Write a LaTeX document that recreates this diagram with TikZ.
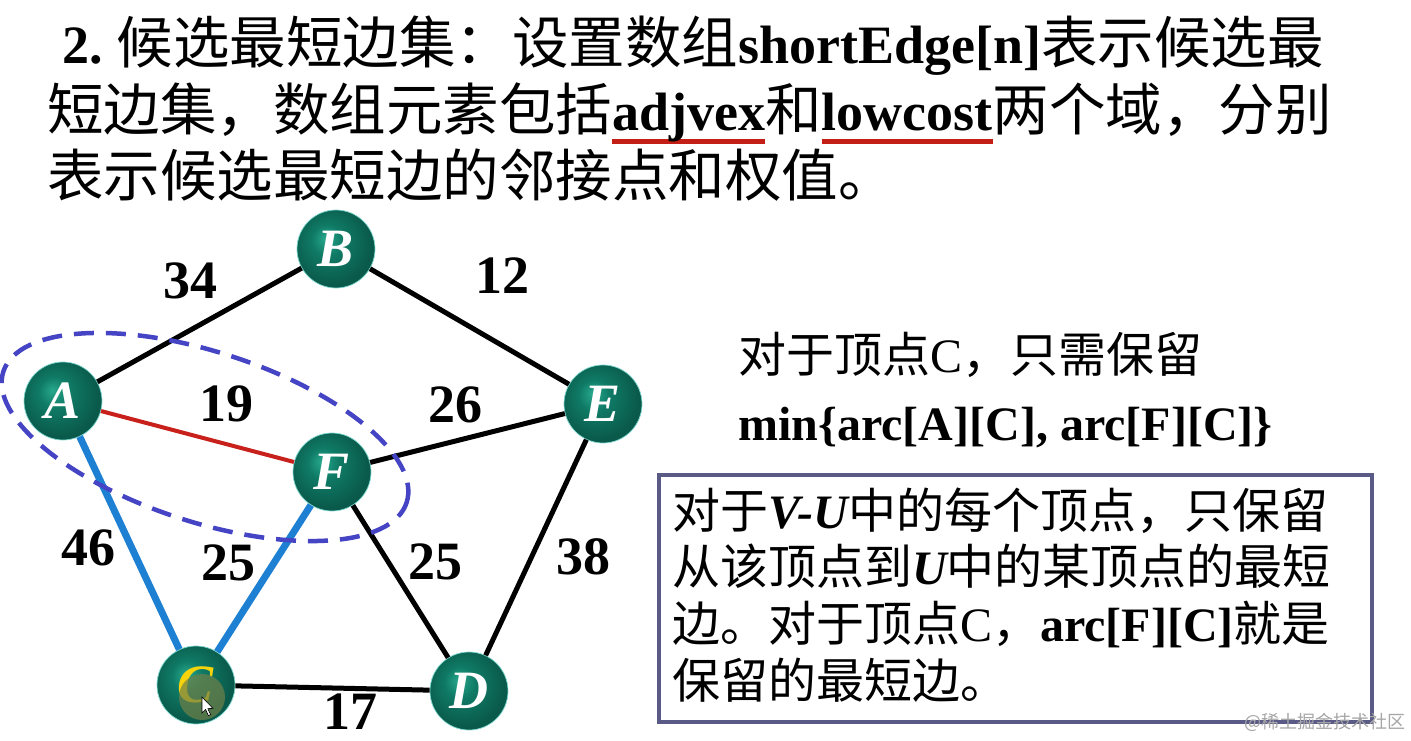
\documentclass[tikz,border=0pt]{standalone}
\usepackage{fontspec}
\setmainfont{Liberation Serif}
\newfontfamily\cjk{Noto Sans CJK SC}
\usetikzlibrary{calc}
\definecolor{ballhi}{HTML}{27A88C}
\definecolor{ballmid}{HTML}{0F7A65}
\definecolor{balldark}{HTML}{0A5A4B}
\definecolor{ballrim}{HTML}{7FD8D0}
\definecolor{ulred}{HTML}{C41F16}
\definecolor{edgered}{HTML}{C8201A}
\definecolor{edgeblue}{HTML}{1E80D2}
\definecolor{ellc}{HTML}{4444C4}
\definecolor{boxc}{HTML}{5A5A86}
\definecolor{cyel}{HTML}{F5D40C}
\definecolor{blob}{HTML}{708048}
\pgfdeclareradialshading{nodeball}{\pgfpoint{-7bp}{7bp}}{color(0bp)=(ballhi); color(10bp)=(ballmid); color(26bp)=(balldark); color(50bp)=(balldark)}
\newcommand\Tc[1]{{\cjk\fontsize{56.5}{60}\selectfont #1}}
\newcommand\Tl[1]{{\fontsize{54}{60}\selectfont\bfseries #1}}
\newcommand\Rc[1]{{\cjk\fontsize{48}{52}\selectfont #1}}
\newcommand\Rl[1]{{\fontsize{48}{52}\selectfont #1}}
\newcommand\Rb[1]{{\fontsize{48}{52}\selectfont\bfseries #1}}
\newcommand\Rbi[1]{{\fontsize{48}{52}\selectfont\bfseries\itshape #1}}
\newcommand\redul[1]{\setbox0\hbox{#1}\rlap{\color{ulred}\rule[-13.5pt]{\wd0}{5pt}}\box0}
\begin{document}
\begin{tikzpicture}[x=1pt,y=-1pt,
  vtx/.style={circle, minimum size=78pt, inner sep=0pt, shading=nodeball, draw=ballrim, line width=0.7pt, text=white, font=\fontsize{54}{54}\selectfont\bfseries\itshape},
  wlab/.style={inner sep=0pt, font=\fontsize{54}{54}\selectfont\bfseries},
  txt/.style={anchor=base west, inner sep=0pt},
  blk/.style={line width=5pt, black},
  redl/.style={line width=4pt, edgered},
  blu/.style={line width=7pt, edgeblue},
  ellip/.style={ellc, line width=4.5pt, dash pattern=on 20pt off 12pt}
]
\useasboundingbox (0,0) rectangle (1411,741);
\fill[white] (0,0) rectangle (1411,741);

% title
\node[txt] (t1) at (62,64) {\Tl{2.}\hspace{14pt}\Tc{候选最短边集：设置数组}\Tl{shortEdge[n]}\Tc{表示候选最}};
\node[txt] (t2) at (47,131) {\Tc{短边集，数组元素包括}\Tl{\redul{adjvex}}\Tc{和}\Tl{\redul{lowcost}}\Tc{两个域，分别}};
\node[txt] (t3) at (47,196) {\Tc{表示候选最短边的邻接点和权值。}};

% vertices
\node[vtx] (A) at (63,401) {A};
\node[vtx] (B) at (336,249) {B};
\node[vtx] (E) at (603,404) {E};
\node[vtx] (F) at (332,472) {F};
\node[vtx, text=cyel] (C) at (196,685) {C};
\node[vtx] (D) at (469,691) {D};

% edges
\draw[blk] (A) -- (B);
\draw[blk] (B) -- (E);
\draw[blk] (F) -- (E);
\draw[blk] (F) -- (D);
\draw[blk] (E) -- (D);
\draw[blk] (C) -- (D);
\draw[redl] (A) -- (F);
\draw[blu] (A) -- (C);
\draw[blu] (F) -- (C);

% weights
\node[wlab] (l34) at (190,281) {34};
\node[wlab] (l12) at (502,276) {12};
\node[wlab] (l19) at (226,404) {19};
\node[wlab] (l26) at (455,405) {26};
\node[wlab] (l46) at (88,548) {46};
\node[wlab] (l25a) at (228,563) {25};
\node[wlab] (l25b) at (435,562) {25};
\node[wlab] (l38) at (583,557) {38};
\node[wlab] (l17) at (350,712) {17};

% dashed ellipse
\draw[ellip, rotate around={-18:(205,437)}] (205,437) ellipse [x radius=212pt, y radius=85pt];

% cursor highlight on C
\fill[blob, opacity=0.7] (202,697) circle [radius=23pt];
\draw[black, line width=0.6pt, fill=white, shift={(202,697)}]
  (0,0) -- (0,16) -- (3.6,12.4) -- (6.4,18.6) -- (8.6,17.6) -- (5.8,11.6) -- (11,11.4) -- cycle;

% right-hand text
\node[txt] (r1) at (738,372) {\Rc{对于顶点}\Rl{C}\Rc{，只需保留}};
\node[txt] (r2) at (738,440) {\Rb{min\{arc[A][C], arc[F][C]\}}};

% box
\node[draw=boxc, line width=4pt, minimum width=713pt, minimum height=247pt, anchor=north west, inner sep=0pt] (box) at (657,473) {};
\node[txt] (b1) at (672,528) {\Rc{对于}\Rbi{V-U}\Rc{中的每个顶点，只保留}};
\node[txt] (b2) at (672,584) {\Rc{从该顶点到}\Rbi{U}\Rc{中的某顶点的最短}};
\node[txt] (b3) at (672,641) {\Rc{边。对于顶点}\Rl{C}\Rc{，}\Rb{arc[F][C]}\Rc{就是}};
\node[txt] (b4) at (672,698) {\Rc{保留的最短边。}};

% watermark
\node[anchor=east, inner sep=0pt, text=black!35, font=\cjk\fontsize{18}{18}\selectfont] (wm) at (1406,722) {@稀土掘金技术社区};
\end{tikzpicture}
\end{document}
